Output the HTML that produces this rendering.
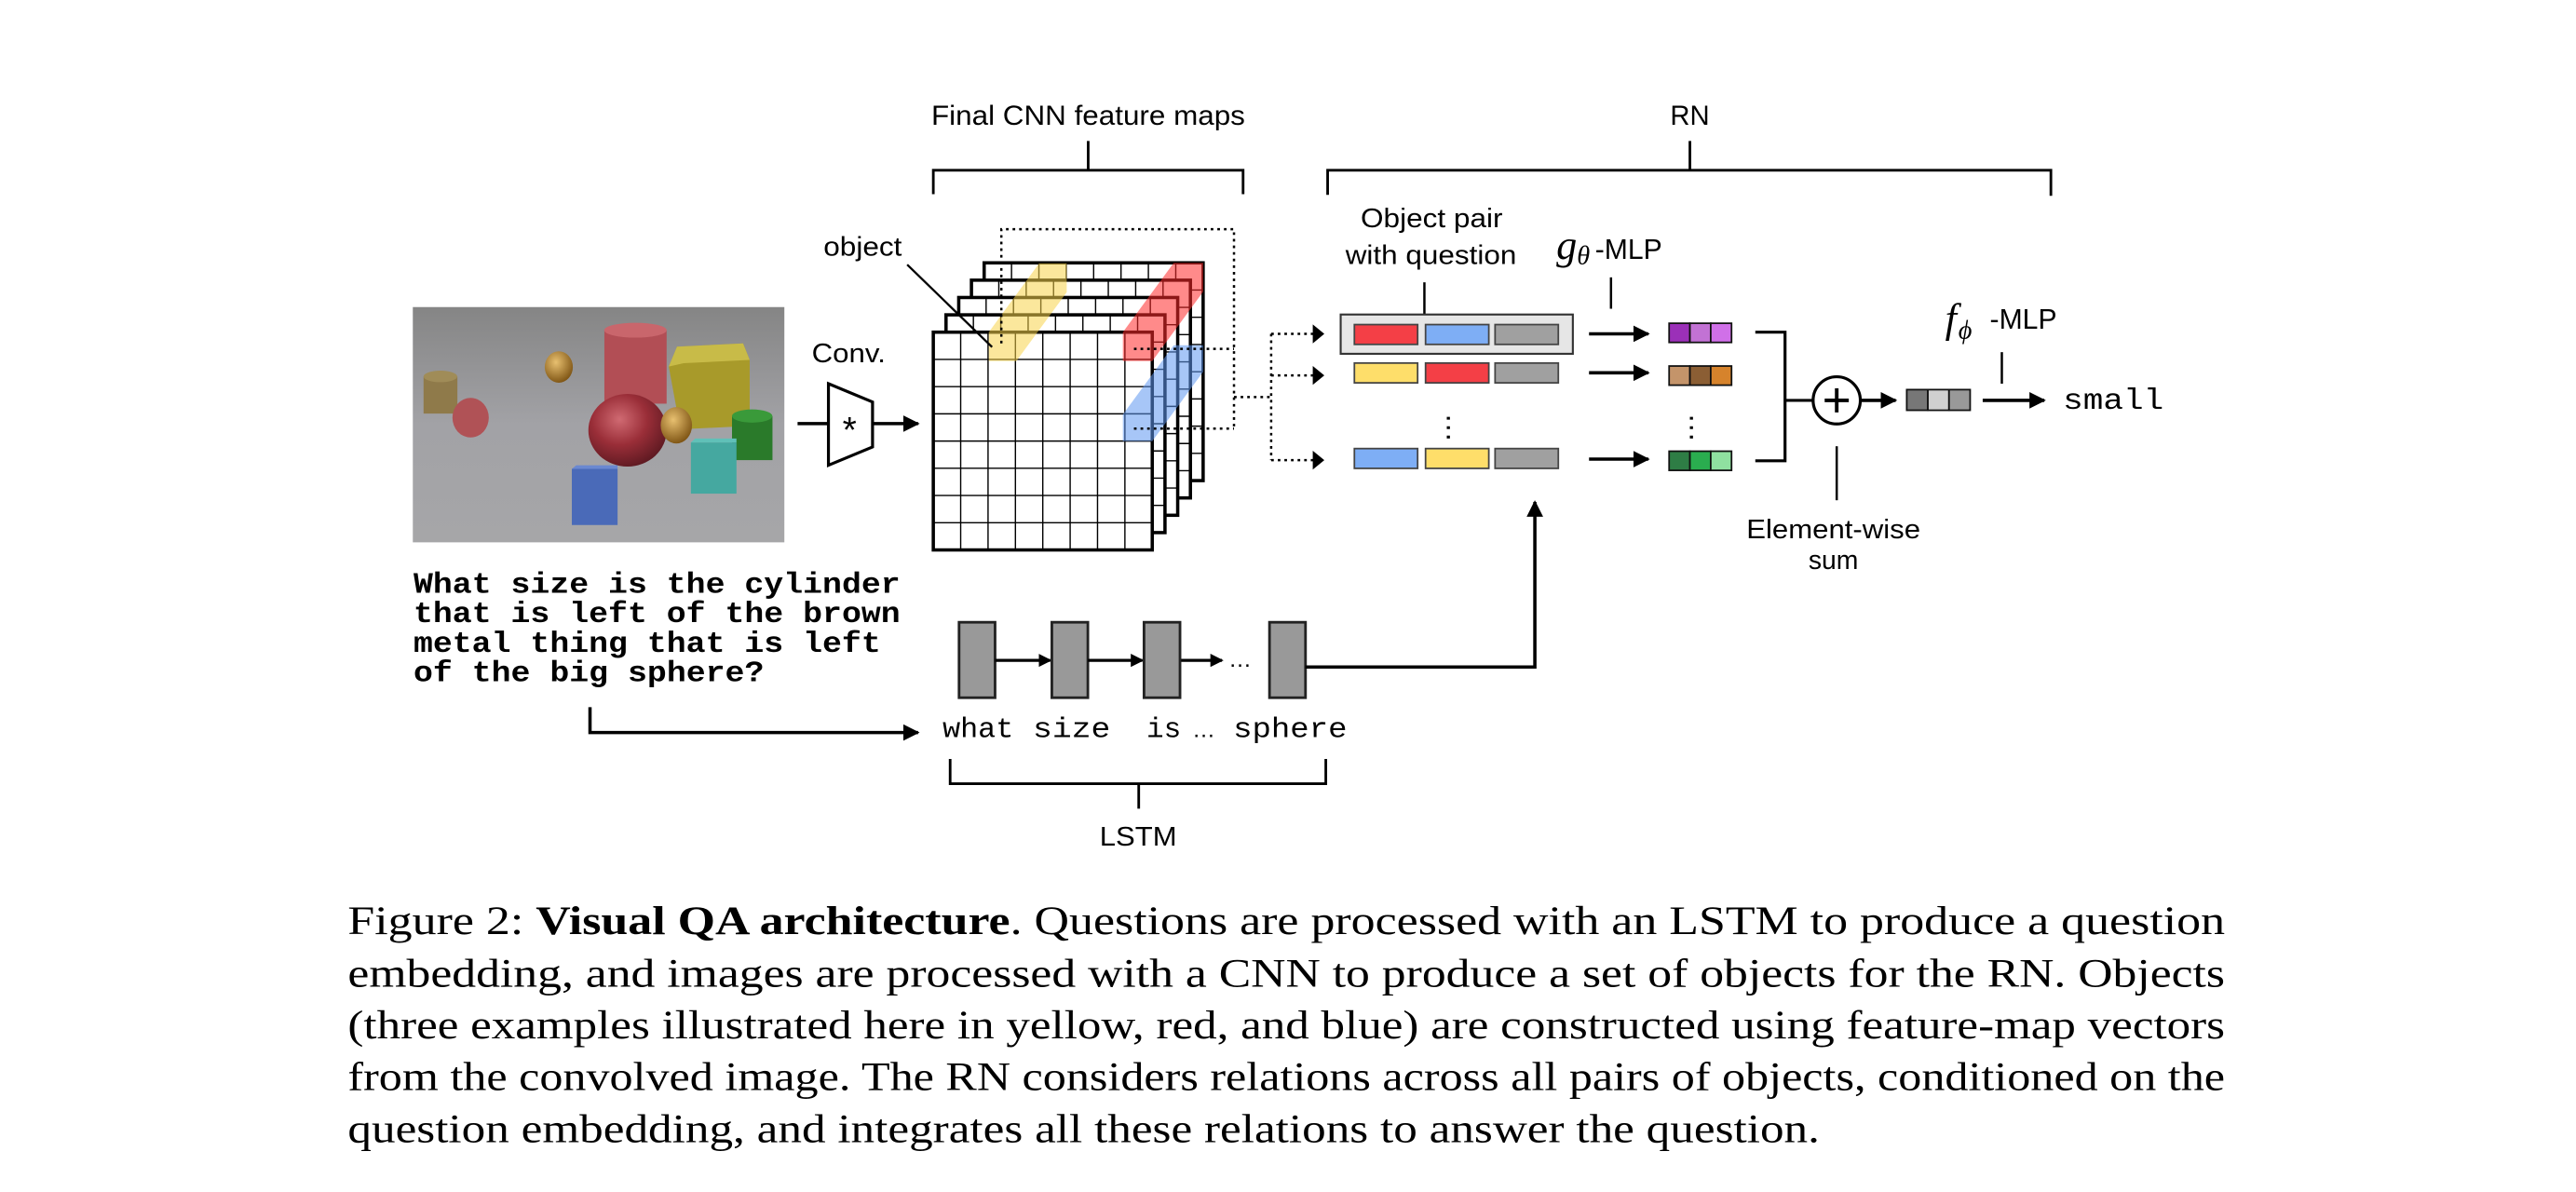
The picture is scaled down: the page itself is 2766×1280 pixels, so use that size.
<!DOCTYPE html>
<html><head><meta charset="utf-8"><style>
html,body{margin:0;padding:0;background:#fff;}
svg{display:block;}
.sans{font-family:"Liberation Sans",sans-serif;}
.mono{font-family:"Liberation Mono",monospace;}
.serif{font-family:"Liberation Serif",serif;}
</style></head><body>
<svg id="fig" xmlns="http://www.w3.org/2000/svg" width="2766" height="1280" viewBox="0 0 1560 722" preserveAspectRatio="none">
<defs>
<marker id="ah" markerWidth="10" markerHeight="10" refX="9" refY="5" orient="auto" markerUnits="userSpaceOnUse"><path d="M0,0 L10,5 L0,10 z" fill="#000"/></marker>
<marker id="ahs" markerWidth="8" markerHeight="8" refX="7" refY="4" orient="auto" markerUnits="userSpaceOnUse"><path d="M0,0 L8,4 L0,8 z" fill="#000"/></marker>
<linearGradient id="bg" x1="0" y1="0" x2="0" y2="1"><stop offset="0" stop-color="#858585"/><stop offset="0.5" stop-color="#a2a2a6"/><stop offset="1" stop-color="#a6a6a8"/></linearGradient>
<radialGradient id="rs" cx="0.4" cy="0.35" r="0.7"><stop offset="0" stop-color="#d06a72"/><stop offset="0.5" stop-color="#9a2e38"/><stop offset="1" stop-color="#5a1820"/></radialGradient>
<radialGradient id="gs" cx="0.4" cy="0.35" r="0.7"><stop offset="0" stop-color="#e8c070"/><stop offset="1" stop-color="#7a5010"/></radialGradient>
</defs>

<g>
<rect x="250" y="186" width="225" height="142.5" fill="url(#bg)"/>
<rect x="256.5" y="228" width="20.5" height="22.5" fill="#8f7a4a"/><ellipse cx="266.7" cy="228" rx="10.2" ry="3.5" fill="#a08c58"/>
<ellipse cx="285" cy="253" rx="11" ry="12" fill="#b05256"/>
<ellipse cx="338.4" cy="222.3" rx="8.5" ry="9.5" fill="url(#gs)"/>
<rect x="366" y="200" width="37.7" height="44.5" fill="#b24e55"/><ellipse cx="384.8" cy="200" rx="18.9" ry="4.5" fill="#c9666c"/>
<polygon points="410,210 450,208 454,218 454,258 412,260 405,222" fill="#a89a2a"/><polygon points="405,222 410,210 450,208 454,218 414,220" fill="#c8bb48"/>
<ellipse cx="380" cy="260.6" rx="23.7" ry="22" fill="url(#rs)"/>
<ellipse cx="409.6" cy="257.6" rx="9.5" ry="11" fill="url(#gs)"/>
<rect x="443.3" y="252" width="24.5" height="26.7" fill="#2a7a2a"/><ellipse cx="455.5" cy="252" rx="12.2" ry="4" fill="#3a9a3a"/>
<rect x="418.4" y="268" width="27.6" height="31" fill="#45a8a0"/><polygon points="418.4,268 421,265.6 446,265.6 446,268" fill="#60c0b8"/>
<rect x="346.3" y="284" width="27.7" height="34" fill="#4a6ab8"/><polygon points="346.3,284 349,281.8 374,281.8 374,284" fill="#6a88d0"/>
</g>

<g class="mono" font-weight="bold" font-size="18" fill="#000">
<text x="250.4" y="359.1" textLength="294.8" lengthAdjust="spacingAndGlyphs">What size is the cylinder</text>
<text x="250.4" y="376.9" textLength="294.8" lengthAdjust="spacingAndGlyphs">that is left of the brown</text>
<text x="250.4" y="394.8" textLength="283" lengthAdjust="spacingAndGlyphs">metal thing that is left</text>
<text x="250.4" y="412.7" textLength="212.3" lengthAdjust="spacingAndGlyphs">of the big sphere?</text>
</g>
<path d="M357.3,428.3 V443.7 H556" fill="none" stroke="#000" stroke-width="2" marker-end="url(#ah)"/>

<text class="sans" x="491.6" y="219.3" font-size="16" textLength="44.7" lengthAdjust="spacingAndGlyphs">Conv.</text>
<line x1="483" y1="256.6" x2="501.7" y2="256.6" stroke="#000" stroke-width="2"/>
<polygon points="501.7,232.4 528.4,243.5 528.4,270.7 501.7,281.8" fill="#fff" stroke="#000" stroke-width="1.8"/>
<text class="sans" x="514.5" y="268" font-size="22" text-anchor="middle">*</text>
<line x1="528.4" y1="256.6" x2="556" y2="256.6" stroke="#000" stroke-width="2" marker-end="url(#ah)"/>

<g id="maps"></g>
<g>
<polygon points="598.8,218.7 615.5,218.7 646,177 646,159.5 629.3,159.5 598.8,201.2" fill="#f8d44a" opacity="0.55"/>
<polygon points="680,218.7 697.8,218.7 728.6,176.7 728.6,159.2 710.8,159.2 680,201.2" fill="#ff2a2a" opacity="0.55"/>
<polygon points="680,267.2 697.8,267.2 728.6,225.2 728.6,209.1 710.8,209.1 680,251.1" fill="#5f97f0" opacity="0.55"/>
</g>
<g fill="none" stroke="#000" stroke-width="1.4" stroke-dasharray="1.6,2.4">
<path d="M606.4,208 V138.8 H747.3 V259.6"/>
<path d="M686.7,211.3 H747.3"/>
<path d="M686.7,259.6 H747.3"/>
<path d="M747.3,240.5 H769.8"/>
<path d="M769.8,202.2 V278.7"/>
<path d="M769.8,202.2 H796"/>
<path d="M769.8,227.4 H796"/>
<path d="M769.8,278.7 H796"/>
</g>
<g fill="#000">
<path d="M795,196.5 L802,202.2 L795,208 z"/><path d="M795,221.7 L802,227.4 L795,233.1 z"/><path d="M795,273 L802,278.7 L795,284.4 z"/>
</g>
<text class="sans" x="498.7" y="154.9" font-size="16" textLength="47.5" lengthAdjust="spacingAndGlyphs">object</text>
<line x1="549.4" y1="160.3" x2="600.8" y2="210.2" stroke="#000" stroke-width="1.3"/>

<text class="sans" x="659" y="75.7" font-size="16.5" text-anchor="middle" textLength="190" lengthAdjust="spacingAndGlyphs">Final CNN feature maps</text>
<path d="M565.2,117.6 V103.1 H752.8 V117.6 M659,85.4 V103.1" fill="none" stroke="#000" stroke-width="1.6"/>

<text class="sans" x="1023.4" y="75.7" font-size="16.5" text-anchor="middle">RN</text>
<path d="M804,118 V103.1 H1242 V118.6 M1023.4,85.4 V103.1" fill="none" stroke="#000" stroke-width="1.6"/>

<text class="sans" font-size="16" text-anchor="middle"><tspan x="867" y="137.7" textLength="86" lengthAdjust="spacingAndGlyphs">Object pair</tspan><tspan x="866.6" y="159.9" textLength="103.6" lengthAdjust="spacingAndGlyphs">with question</tspan></text>
<line x1="862.6" y1="171" x2="862.6" y2="190.5" stroke="#000" stroke-width="1.4"/>
<rect x="811.9" y="190.5" width="140.6" height="23.8" fill="#e6e6e6" stroke="#333" stroke-width="1.2"/>
<g id="pairs"></g>
<text class="sans" x="882.4" y="259" font-size="18" text-anchor="middle" writing-mode="tb">…</text>

<g>
<text class="serif" font-style="italic" x="942.5" y="156.9" font-size="25">g<tspan font-size="16" dy="3">θ</tspan></text>
<text class="sans" x="966" y="156.9" font-size="17">-MLP</text>
</g>
<line x1="975.6" y1="168" x2="975.6" y2="187" stroke="#000" stroke-width="1.4"/>
<g stroke="#000" stroke-width="2">
<line x1="962.3" y1="202.2" x2="998.2" y2="202.2" marker-end="url(#ah)"/>
<line x1="962.3" y1="225.8" x2="998.2" y2="225.8" marker-end="url(#ah)"/>
<line x1="962.3" y1="278.1" x2="998.2" y2="278.1" marker-end="url(#ah)"/>
</g>
<g id="rels"></g>
<text class="sans" x="1029.5" y="259" font-size="18" text-anchor="middle" writing-mode="tb">…</text>

<path d="M1063,201.2 H1081 V279.1 H1063 M1081,242.5 H1098" fill="none" stroke="#000" stroke-width="1.8"/>
<g>
<circle cx="1112.3" cy="242.5" r="14.3" fill="#fff" stroke="#000" stroke-width="1.8"/>
<path d="M1105,242.5 H1119.6 M1112.3,235.2 V249.8" stroke="#000" stroke-width="2.2"/>
</g>
<line x1="1126.6" y1="242.5" x2="1148" y2="242.5" stroke="#000" stroke-width="2" marker-end="url(#ah)"/>
<line x1="1112.3" y1="270.3" x2="1112.3" y2="303" stroke="#000" stroke-width="1.4"/>
<text class="sans" font-size="16" text-anchor="middle"><tspan x="1110.3" y="326" textLength="105.4" lengthAdjust="spacingAndGlyphs">Element-wise</tspan><tspan x="1110.3" y="344.6">sum</tspan></text>
<g id="outvec"></g>
<g>
<text class="serif" font-style="italic" x="1178" y="201" font-size="25">f<tspan font-size="16" dy="4" dx="1">ϕ</tspan></text>
<text class="sans" x="1205" y="199" font-size="17">-MLP</text>
</g>
<line x1="1212.3" y1="213.3" x2="1212.3" y2="232.4" stroke="#000" stroke-width="1.4"/>
<line x1="1200.7" y1="242.5" x2="1238" y2="242.5" stroke="#000" stroke-width="2" marker-end="url(#ah)"/>
<text class="mono" x="1249.3" y="247.5" font-size="18" textLength="61" lengthAdjust="spacingAndGlyphs">small</text>

<g id="lstm"></g>
<text class="sans" x="744" y="404" font-size="14">…</text>
<path d="M790.5,404 H929.5 V304" fill="none" stroke="#000" stroke-width="2" marker-end="url(#ah)"/>
<g class="mono" font-size="17">
<text x="570.8" y="446.5" textLength="43" lengthAdjust="spacingAndGlyphs">what</text>
<text x="625.5" y="446.5" textLength="47" lengthAdjust="spacingAndGlyphs">size</text>
<text x="694.3" y="446.5" textLength="21" lengthAdjust="spacingAndGlyphs">is</text>
<text x="722" y="446.5" font-size="14" class="sans">…</text>
<text x="746.8" y="446.5" textLength="69" lengthAdjust="spacingAndGlyphs">sphere</text>
</g>
<path d="M575.4,459.7 V474.7 H802.9 V459.7 M689.6,474.7 V489.8" fill="none" stroke="#000" stroke-width="1.6"/>
<text class="sans" x="689.3" y="512.3" font-size="16" text-anchor="middle" textLength="46.7" lengthAdjust="spacingAndGlyphs">LSTM</text>

<g class="serif" font-size="24.5" fill="#000">
<text x="210.6" y="565.9" textLength="1136.8" lengthAdjust="spacingAndGlyphs">Figure 2: <tspan font-weight="bold">Visual QA architecture</tspan>. Questions are processed with an LSTM to produce a question</text>
<text x="210.6" y="597.5" textLength="1136.8" lengthAdjust="spacingAndGlyphs">embedding, and images are processed with a CNN to produce a set of objects for the RN. Objects</text>
<text x="210.6" y="628.9" textLength="1136.8" lengthAdjust="spacingAndGlyphs">(three examples illustrated here in yellow, red, and blue) are constructed using feature-map vectors</text>
<text x="210.6" y="660.3" textLength="1136.8" lengthAdjust="spacingAndGlyphs">from the convolved image. The RN considers relations across all pairs of objects, conditioned on the</text>
<text x="210.6" y="691.9" textLength="891.4" lengthAdjust="spacingAndGlyphs">question embedding, and integrates all these relations to answer the question.</text>
</g>
</svg>
<script>
const NS='http://www.w3.org/2000/svg';
function mk(tag,attrs,parent){const e=document.createElementNS(NS,tag);for(const k in attrs)e.setAttribute(k,attrs[k]);parent.appendChild(e);return e;}
const layerCount=5, gridCols=8, gridRows=8;
const maps=document.getElementById('maps');
const fx=565.2, fy=201.2, fw=132.6, fh=131.9, ldx=7.7, ldy=-10.5;
for(let i=layerCount-1;i>=0;i--){
  const g=mk('g',{},maps);
  
  
  const x0=fx+ldx*i, y0=fy+ldy*i;
  mk('rect',{x:x0,y:y0,width:fw,height:fh,fill:'#fff',stroke:'none'},g);
  for(let c=1;c<gridCols;c++){const x=x0+fw*c/gridCols;mk('line',{x1:x,y1:y0,x2:x,y2:y0+fh,stroke:'#000','stroke-width':0.8},g);}
  for(let r=1;r<gridRows;r++){const y=y0+fh*r/gridRows;mk('line',{x1:x0,y1:y,x2:x0+fw,y2:y,stroke:'#000','stroke-width':0.8},g);}
  mk('rect',{x:x0,y:y0,width:fw,height:fh,fill:'none',stroke:'#000','stroke-width':2},g);
}
const pairColors=[['#f43f46','#7eaef5','#a0a0a0'],['#fede6a','#f43f46','#a0a0a0'],['#7eaef5','#fede6a','#a0a0a0']];
const pairY=[196.6,219.9,271.7];
const pairX=[820.2,863.3,905.4];
const pairs=document.getElementById('pairs');
pairColors.forEach((row,ri)=>{row.forEach((col,ci)=>{
  const r=mk('rect',{x:pairX[ci],y:pairY[ri],width:38.3,height:12,fill:col,stroke:'#444','stroke-width':1},pairs);
  
  
});});
const relColors=[['#9b30b8','#c272d4','#d070e8'],['#c4946a','#8b5e34','#d6832c'],['#2e7d45','#2aad4f','#8fe0a0']];
const relY=[195.8,221.7,273.3];
const rels=document.getElementById('rels');
relColors.forEach((row,ri)=>{row.forEach((col,ci)=>{
  const r=mk('rect',{x:1010.8+ci*12.6,y:relY[ri],width:12.6,height:11.6,fill:col,stroke:'#111','stroke-width':1},rels);
  
  
});});
const outColors=['#777777','#d0d0d0','#999999'];
const outvec=document.getElementById('outvec');
outColors.forEach((col,ci)=>{
  const r=mk('rect',{x:1154.7+ci*12.8,y:236,width:12.8,height:12.5,fill:col,stroke:'#111','stroke-width':1},outvec);
  
  
});
const cellX=[580.8,637,692.8,768.8];
const lstm=document.getElementById('lstm');
cellX.forEach((x,i)=>{
  const r=mk('rect',{x:x,y:376.9,width:21.8,height:45.7,fill:'#999',stroke:'#222','stroke-width':1.6},lstm);
  
  
  if(i<2){const a=mk('line',{x1:x+21.8,y1:400,x2:cellX[i+1]-1,y2:400,stroke:'#000','stroke-width':1.8,'marker-end':'url(#ahs)'},lstm);
    
    }
  if(i===2){const a=mk('line',{x1:x+22.5,y1:400,x2:740,y2:400,stroke:'#000','stroke-width':1.8,'marker-end':'url(#ahs)'},lstm);
    
    }
});
</script>
</body></html>
